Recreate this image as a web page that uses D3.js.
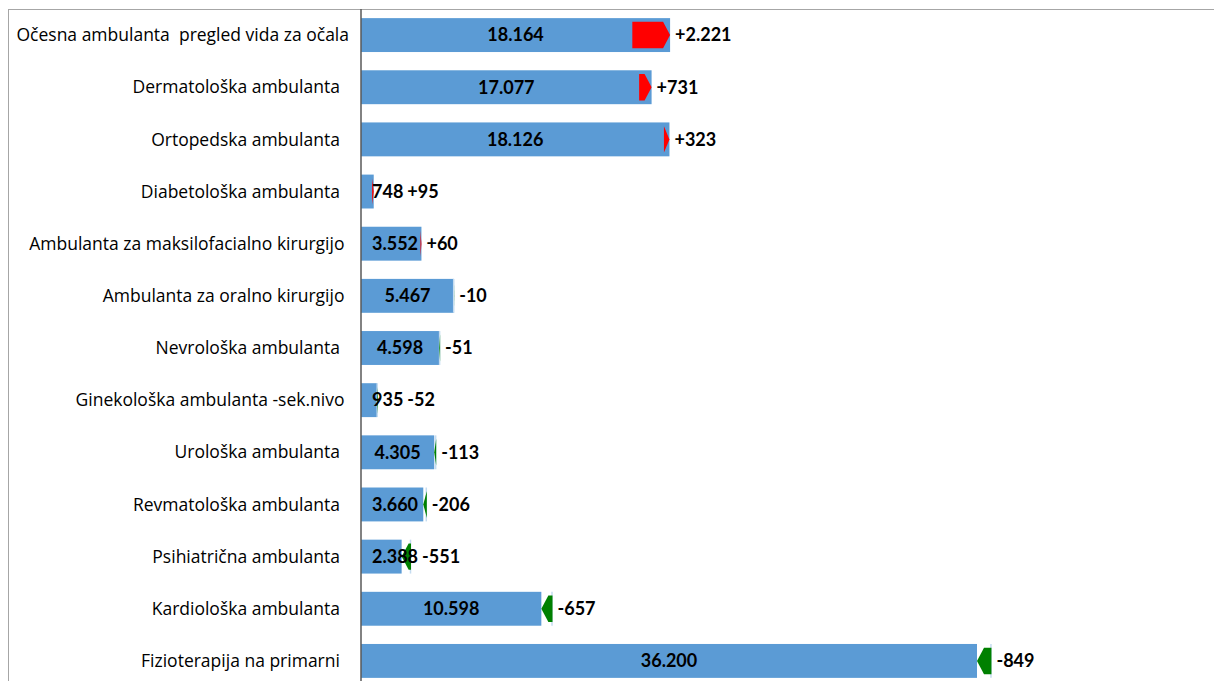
<!DOCTYPE html>
<html>
<head>
<meta charset="utf-8">
<script src="https://cdn.jsdelivr.net/npm/d3@7"></script>
<style>
  body { margin: 0; background: #fff; }
  svg { display: block; font-family: Lato, "Liberation Sans", sans-serif; }
  .cat { white-space: pre; font-family: "Open Sans", "Liberation Sans", sans-serif; }
</style>
</head>
<body>
<svg id="chart" width="1214" height="681"></svg>
<script>
// categories top to bottom, trailing spaces kept as in the source sheet
const categories = [
  "Očesna ambulanta  pregled vida za očala",
  "Dermatološka ambulanta  ",
  "Ortopedska ambulanta  ",
  "Diabetološka ambulanta  ",
  "Ambulanta za maksilofacialno kirurgijo ",
  "Ambulanta za oralno kirurgijo ",
  "Nevrološka ambulanta  ",
  "Ginekološka ambulanta -sek.nivo ",
  "Urološka ambulanta  ",
  "Revmatološka ambulanta  ",
  "Psihiatrična ambulanta  ",
  "Kardiološka ambulanta  ",
  "Fizioterapija na primarni  ",
];
const current = [18164, 17077, 18126, 748, 3552, 5467, 4598, 935, 4305, 3660, 2388, 10598, 36200];
const change = [2221, 731, 323, 95, 60, -10, -51, -52, -113, -206, -551, -657, -849];

const rows = categories.map((name, i) => ({
  name,
  cur: current[i],
  diff: change[i],
  prev: current[i] - change[i],
}));

const locale = d3.formatLocale({ decimal: ",", thousands: ".", grouping: [3], currency: ["", ""], minus: "-" });
const fmtVal = locale.format(",");
const fmtDiff = locale.format("+,");

const svg = d3.select("#chart");
const W = 1214, H = 681;

// chart frame (runs off the bottom/right of the picture)
svg.append("rect")
  .attr("x", 8.5).attr("y", 9.5)
  .attr("width", W + 20).attr("height", H + 20)
  .attr("fill", "none").attr("stroke", "#a6a6a6");

const x = d3.scaleLinear().domain([0, 36200]).range([361, 977]);
const y = d3.scaleBand()
  .domain(d3.range(rows.length))
  .range([9, 687])
  .paddingInner(0.35)
  .paddingOuter(0.175);

const bh = y.bandwidth();
const ah = bh * 0.78; // arrow height
const cy = (i) => y(i) + bh / 2;

// category labels
svg.append("g").selectAll("text")
  .data(rows)
  .join("text")
  .attr("class", "cat")
  .attr("x", 349)
  .attr("y", (d, i) => cy(i))
  .attr("dy", "0.35em")
  .attr("text-anchor", "end")
  .attr("font-size", 17.5)
  .attr("fill", "#000")
  .text((d) => d.name);

// current value bars
svg.append("g").selectAll("rect")
  .data(rows)
  .join("rect")
  .attr("x", x(0))
  .attr("y", (d, i) => y(i))
  .attr("width", (d) => x(d.cur) - x(0))
  .attr("height", bh)
  .attr("fill", "#5b9bd5");

// faint marker where the previous value ended (drops only)
svg.append("g").selectAll("line")
  .data(rows.filter((d) => d.diff < 0))
  .join("line")
  .attr("x1", (d) => x(d.prev) - 0.5)
  .attr("x2", (d) => x(d.prev) - 0.5)
  .attr("y1", (d) => y(rows.indexOf(d)))
  .attr("y2", (d) => y(rows.indexOf(d)) + bh)
  .attr("stroke", "#c5dcf0")
  .attr("stroke-width", 1.5);

// change arrows, from previous value to current value
function arrow(d, i) {
  const a = x(d.prev), b = x(d.cur);
  const dir = Math.sign(b - a) || 1;
  const L = Math.min(7, Math.abs(b - a));
  const c = cy(i), t = c - ah / 2, btm = c + ah / 2;
  return `M${a},${t}L${b - dir * L},${t}L${b},${c}L${b - dir * L},${btm}L${a},${btm}Z`;
}
svg.append("g").selectAll("path")
  .data(rows)
  .join("path")
  .attr("d", arrow)
  .attr("fill", (d) => (d.diff >= 0 ? "#ff0000" : "#008000"));

// axis line
svg.append("line")
  .attr("x1", x(0)).attr("x2", x(0))
  .attr("y1", 9).attr("y2", H)
  .attr("stroke", "#595959")
  .attr("stroke-width", 1.5);

// value labels: centred in bar, or pushed right when the bar is too short
const valLabels = svg.append("g").selectAll("text")
  .data(rows)
  .join("text")
  .attr("y", (d, i) => cy(i))
  .attr("dy", "0.35em")
  .attr("text-anchor", "middle")
  .attr("font-size", 18)
  .attr("font-weight", "bold")
  .attr("fill", "#000")
  .text((d) => fmtVal(d.cur));

const valRight = [];
valLabels.each(function (d, i) {
  const w = this.getComputedTextLength();
  const cx = Math.max((x(0) + x(d.cur)) / 2, x(0) + 11 + w / 2);
  d3.select(this).attr("x", cx);
  valRight[i] = cx + w / 2;
});

// change labels
svg.append("g").selectAll("text")
  .data(rows)
  .join("text")
  .attr("x", (d, i) => Math.max(x(Math.max(d.prev, d.cur)) + 5, valRight[i] + 4))
  .attr("y", (d, i) => cy(i))
  .attr("dy", "0.35em")
  .attr("font-size", 18)
  .attr("font-weight", "bold")
  .attr("fill", "#000")
  .text((d) => fmtDiff(d.diff));
</script>
</body>
</html>
